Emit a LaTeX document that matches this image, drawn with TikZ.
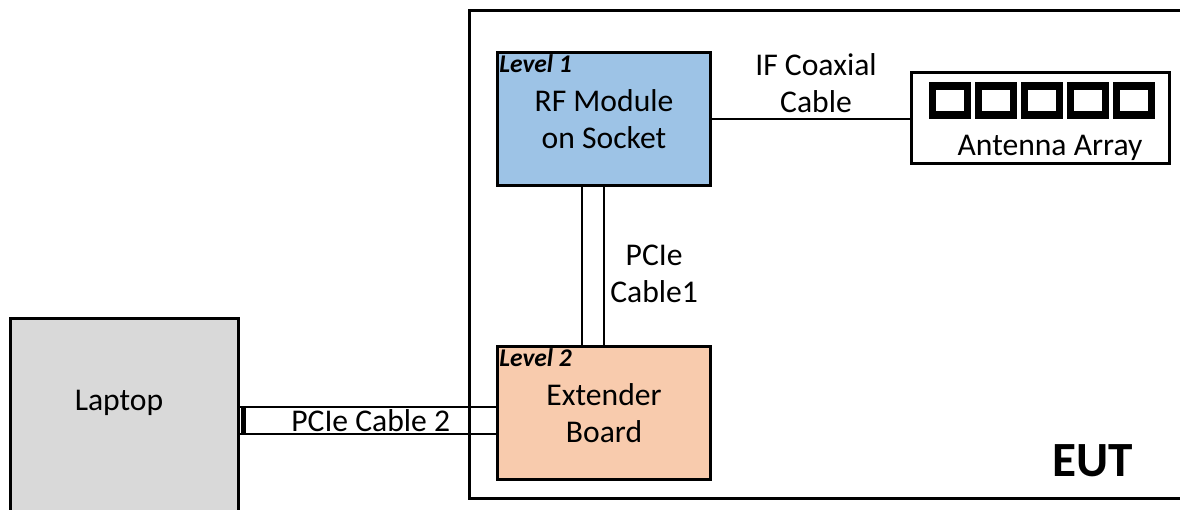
\documentclass[tikz,border=0pt]{standalone}
\usepackage{fontspec}
\setmainfont{Carlito}
\usetikzlibrary{positioning,calc}

\definecolor{rfblue}{HTML}{9DC3E6}
\definecolor{extpeach}{HTML}{F8CBAD}
\definecolor{lapgrey}{HTML}{D9D9D9}

\begin{document}
\begin{tikzpicture}[x=0.02cm, y=-0.02cm, font=\fontsize{18}{21}\selectfont,
  box/.style={draw, line width=1.7pt, align=center, inner sep=0pt},
  level/.style={font=\fontsize{14.5}{16}\selectfont\bfseries\itshape, anchor=north west, inner sep=2pt},
  cable/.style={line width=1.6pt},
  tag/.style={align=center, inner sep=0pt}]
  % --- pixel grid, y grows downwards ---
  \useasboundingbox (0,0) rectangle (1180,510);

  % ---- EUT enclosure ----
  \node[box, anchor=north west, minimum width=14.44cm, minimum height=9.76cm] (eut) at (468,9) {};
  \node[font=\fontsize{28}{30}\selectfont\bfseries] (euttxt) at (1093,461) {EUT};

  % ---- boards inside the EUT ----
  \node[box, fill=rfblue, minimum width=4.28cm, minimum height=2.68cm] (rf) at (604,119) {RF Module\\on Socket};
  \node[level] (lvl1) at (rf.north west) {Level 1};
  \node[box, fill=extpeach, minimum width=4.28cm, minimum height=2.68cm] (ext) at (604,413) {Extender\\Board};
  \node[level] (lvl2) at (ext.north west) {Level 2};

  % ---- antenna array: five patches ----
  \node[box, minimum width=5.18cm, minimum height=1.84cm] (ant) at (1040.5,118) {};
  \node (anttxt) at (1050,148) {Antenna Array};
  \foreach \i in {0,...,4}
    \draw[line width=4.5pt] (932.5+46*\i,86) rectangle ++(35,29);

  % ---- laptop ----
  \node[box, fill=lapgrey, anchor=north west, minimum width=4.56cm, minimum height=4.6cm] (laptop) at (9,317) {};
  \node (laptoptxt) at (119,403) {Laptop};

  % ---- cables ----
  \draw[line width=0.8pt] (rf.east) -- (rf.east -| ant.west);
  \node[tag, anchor=south] (iftxt) at ($(rf.east)!0.5!(rf.east -| ant.west)+(5,-6)$) {IF Coaxial\\Cable};

  \draw[cable] ([xshift=-0.44cm]rf.south) -- ([xshift=-0.44cm]ext.north);
  \draw[cable] (rf.south) -- (ext.north);
  \node[tag, anchor=west] (c1txt) at ($(rf.south)!0.55!(ext.north)+(6,0)$) {PCIe\\Cable1};

  \draw[cable] ([yshift=0.12cm]ext.west) -- ([yshift=0.12cm]ext.west -| laptop.east);
  \draw[cable] ([yshift=-0.42cm]ext.west) -- ([yshift=-0.42cm]ext.west -| laptop.east);
  \draw[line width=2.5pt] ([yshift=0.12cm,xshift=2pt]ext.west -| laptop.east) -- ([yshift=-0.42cm,xshift=2pt]ext.west -| laptop.east);
  \node[tag] (c2txt) at ($([yshift=0.12cm]ext.west -| laptop.east)!0.5!([yshift=-0.42cm]ext.west)+(3,0)$) {PCIe Cable 2};
\end{tikzpicture}
\end{document}
